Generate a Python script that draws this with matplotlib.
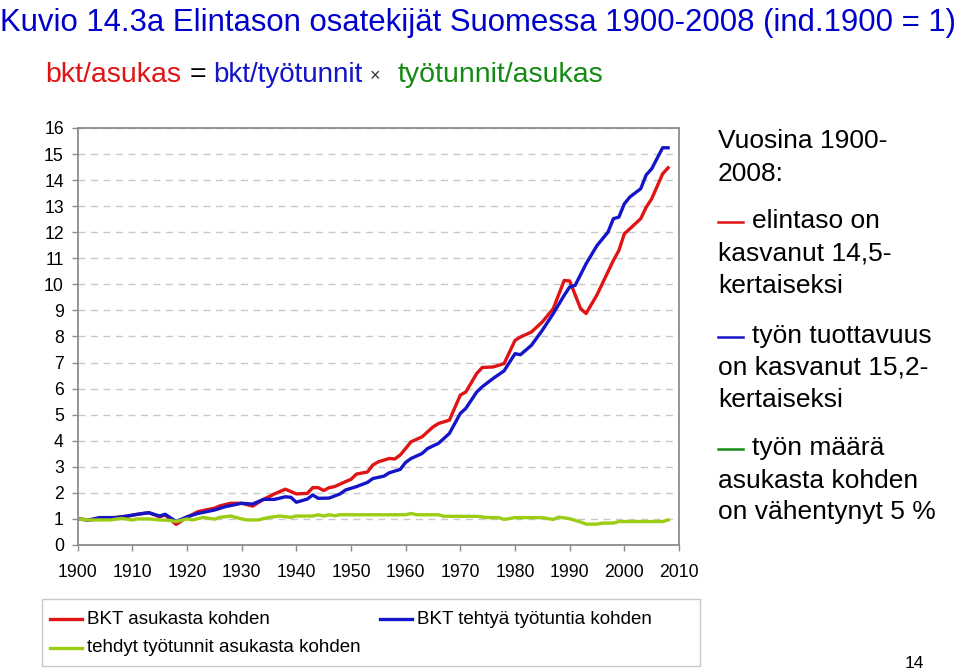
import matplotlib
matplotlib.use('Agg')
import matplotlib.pyplot as plt
from matplotlib.lines import Line2D
from matplotlib.patches import Rectangle

plt.rcParams['font.family'] = ['Liberation Sans', 'DejaVu Sans']

###############################
# data (index 1900 = 1)
###############################

red_years = [1900, 1902, 1905, 1909, 1911, 1913, 1915, 1916, 1918, 1920, 1922, 1925,
             1926, 1928, 1930, 1932, 1934, 1936, 1938, 1940, 1942, 1943, 1944, 1945,
             1946, 1947, 1949, 1950, 1951, 1953, 1954, 1955, 1957, 1958, 1959, 1961,
             1963, 1965, 1966, 1968, 1970, 1971, 1973, 1974, 1976, 1978, 1980, 1981,
             1983, 1985, 1987, 1989, 1990, 1992, 1993, 1995, 1998, 1999, 2000, 2001,
             2003, 2004, 2005, 2007, 2008]
red_vals = [1.00, 0.96, 1.02, 1.10, 1.18, 1.24, 1.08, 1.15, 0.79, 1.06, 1.28, 1.41,
            1.50, 1.60, 1.60, 1.49, 1.75, 1.96, 2.14, 1.96, 1.98, 2.20, 2.20, 2.09,
            2.20, 2.24, 2.43, 2.52, 2.72, 2.80, 3.07, 3.19, 3.32, 3.30, 3.45, 3.96,
            4.15, 4.53, 4.66, 4.79, 5.75, 5.87, 6.58, 6.81, 6.83, 6.96, 7.85, 7.98,
            8.17, 8.56, 9.07, 10.15, 10.13, 9.07, 8.88, 9.60, 10.92, 11.30, 11.94, 12.13,
            12.52, 12.96, 13.28, 14.24, 14.47]

blue_years = [1900, 1902, 1904, 1907, 1909, 1911, 1913, 1915, 1916, 1918, 1920, 1922,
              1925, 1927, 1930, 1932, 1934, 1936, 1938, 1939, 1940, 1942, 1943, 1944,
              1946, 1948, 1949, 1951, 1953, 1954, 1956, 1957, 1959, 1960, 1961, 1963,
              1964, 1966, 1968, 1970, 1971, 1973, 1974, 1976, 1978, 1980, 1981, 1983,
              1985, 1987, 1989, 1990, 1991, 1993, 1995, 1997, 1998, 1999, 2000, 2001,
              2003, 2004, 2005, 2007, 2008]
blue_vals = [1.00, 0.96, 1.05, 1.05, 1.11, 1.18, 1.24, 1.11, 1.18, 0.90, 1.08, 1.21,
             1.34, 1.47, 1.60, 1.57, 1.75, 1.75, 1.85, 1.83, 1.64, 1.76, 1.92, 1.79,
             1.80, 1.96, 2.11, 2.24, 2.40, 2.55, 2.64, 2.77, 2.90, 3.17, 3.32, 3.51,
             3.70, 3.90, 4.28, 5.05, 5.24, 5.87, 6.07, 6.39, 6.68, 7.34, 7.30, 7.66,
             8.24, 8.88, 9.58, 9.90, 9.96, 10.79, 11.49, 12.00, 12.52, 12.58, 13.09, 13.35,
             13.67, 14.20, 14.43, 15.24, 15.24]

green_years = [1900, 1902, 1906, 1908, 1910, 1911, 1913, 1915, 1917, 1918, 1920, 1921,
               1923, 1925, 1926, 1928, 1930, 1931, 1933, 1935, 1937, 1939, 1940, 1943,
               1944, 1945, 1946, 1947, 1948, 1960, 1961, 1962, 1966, 1967, 1973, 1975,
               1977, 1978, 1980, 1985, 1987, 1988, 1990, 1992, 1993, 1995, 1996, 1998,
               1999, 2007, 2008]
green_vals = [1.00, 0.96, 0.96, 1.02, 0.96, 1.00, 1.00, 0.96, 0.94, 0.90, 1.00, 0.96,
              1.06, 0.99, 1.06, 1.11, 1.00, 0.96, 0.96, 1.06, 1.11, 1.06, 1.11, 1.11,
              1.16, 1.11, 1.16, 1.12, 1.16, 1.16, 1.21, 1.16, 1.16, 1.10, 1.10, 1.05,
              1.05, 0.98, 1.05, 1.05, 0.98, 1.07, 1.01, 0.88, 0.80, 0.80, 0.84, 0.84,
              0.90, 0.90, 0.96]

x_ticks = list(range(1900, 2011, 10))
y_ticks = list(range(0, 17))

red = '#e01414'
blue = '#1414c8'
yellowgreen = '#9acd14'
darkgreen = '#138a13'

###############################
# figure
###############################

fig = plt.figure(figsize=(9.6, 6.71), dpi=100)
ax = fig.add_axes([0.0809, 0.1878, 0.6264, 0.6215])

ax.plot(red_years, red_vals, color=red, lw=2.4, solid_joinstyle='round')
ax.plot(blue_years, blue_vals, color=blue, lw=2.4, solid_joinstyle='round')
ax.plot(green_years, green_vals, color=yellowgreen, lw=2.4, solid_joinstyle='round')

ax.set_xlim(1900, 2010)
ax.set_ylim(0, 16)
ax.set_xticks(x_ticks)
ax.set_yticks(y_ticks)
ax.yaxis.grid(True, ls=(0, (5, 4)), color='#c8c8c8', lw=1)
ax.set_axisbelow(True)
for sp in ax.spines.values():
    sp.set_color('#8c8c8c')
    sp.set_linewidth(1.3)
ax.tick_params(axis='both', color='#8c8c8c', length=4, width=1, labelsize=12.7)
ax.tick_params(axis='x', pad=10)
ax.tick_params(axis='y', pad=6)

# title and coloured formula
fig.text(0.0, 1 - 31 / 671, 'Kuvio 14.3a Elintason osatekijät Suomessa 1900-2008 (ind.1900 = 1)',
         color='#0000cc', fontsize=22.4, va='baseline', ha='left')
sub_y = 1 - 82 / 671
fig.text(45 / 960, sub_y, 'bkt/asukas', color=red, fontsize=20.5, va='baseline')
fig.text(190 / 960, sub_y, '=', color='black', fontsize=20.5, va='baseline')
fig.text(213 / 960, sub_y, 'bkt/työtunnit', color=blue, fontsize=20, va='baseline')
fig.text(370 / 960, sub_y + 0.002, '×', color='#333333', fontsize=13, va='baseline')
fig.text(398 / 960, sub_y, 'työtunnit/asukas', color=darkgreen, fontsize=20.5, va='baseline')

# text block on the right
side_lines = [
    ('Vuosina 1900-', 148, None),
    ('2008:', 181, None),
    ('elintaso on', 228, red),
    ('kasvanut 14,5-', 261, None),
    ('kertaiseksi', 293, None),
    ('työn tuottavuus', 343, blue),
    ('on kasvanut 15,2-', 375, None),
    ('kertaiseksi', 407, None),
    ('työn määrä', 455, darkgreen),
    ('asukasta kohden', 488, None),
    ('on vähentynyt 5 %', 519, None),
]
for txt, yb, col in side_lines:
    if col is None:
        fig.text(718 / 960, 1 - yb / 671, txt, fontsize=19, va='baseline')
    else:
        fig.add_artist(Line2D([718 / 960, 743 / 960], [1 - (yb - 6) / 671] * 2,
                              color=col, lw=1.8))
        fig.text(752 / 960, 1 - yb / 671, txt, fontsize=19, va='baseline')

# legend box under the chart
fig.add_artist(Rectangle((42 / 960, 1 - 666 / 671), 658 / 960, 67 / 671,
                         fill=False, edgecolor='#c8c8c8', lw=1))
legend_items = [
    ('BKT asukasta kohden', red, 50, 619),
    ('BKT tehtyä työtuntia kohden', blue, 380, 619),
    ('tehdyt työtunnit asukasta kohden', yellowgreen, 50, 648),
]
for txt, col, x0, yc in legend_items:
    fig.add_artist(Line2D([x0 / 960, (x0 + 32) / 960], [1 - yc / 671] * 2, color=col, lw=2.4))
    fig.text((x0 + 37) / 960, 1 - yc / 671, txt, fontsize=13.5, va='center')

fig.text(905 / 960, 1 - 668 / 671, '14', fontsize=12.5, va='baseline')

fig.savefig('out.png', dpi=100)
